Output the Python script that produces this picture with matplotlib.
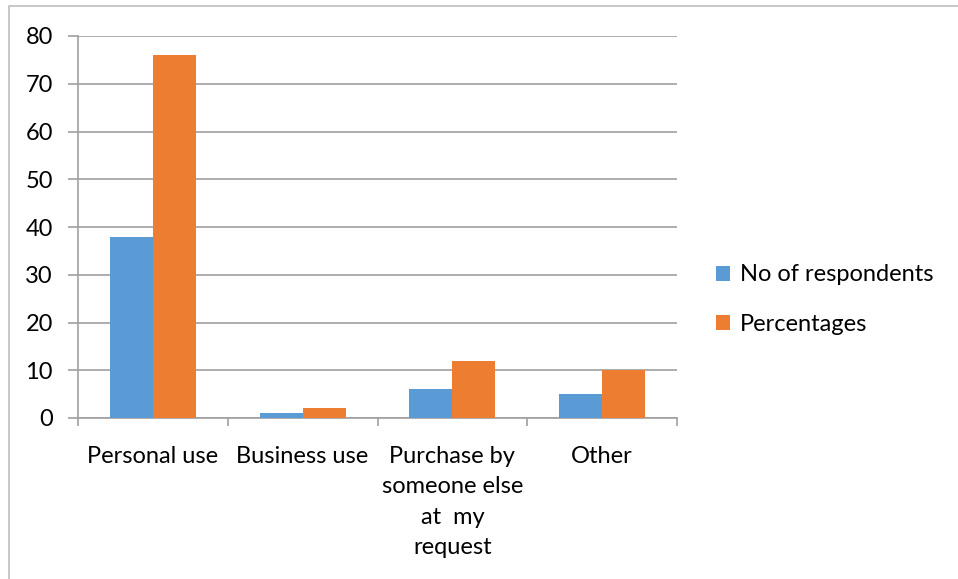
import numpy as np
import matplotlib.pyplot as plt
from matplotlib.patches import Rectangle

categories = ["Personal use", "Business use", "Purchase by\nsomeone else\nat  my\nrequest", "Other"]
respondents = [38, 1, 6, 5]
percentages = [76, 2, 12, 10]
series_names = ["No of respondents", "Percentages"]
yticks = [0, 10, 20, 30, 40, 50, 60, 70, 80]

blue = "#5b9bd5"
orange = "#ed7d31"
grey = "#a0a0a0"

plt.rcParams['font.family'] = ['Lato', 'DejaVu Sans']

fig = plt.figure(figsize=(9.58, 5.79), dpi=100)

# chart outline, runs off the right and bottom edges
fig.patches.append(Rectangle((9/958, -0.1), 1.2, 1 - 6/579 + 0.1, transform=fig.transFigure,
                             fill=False, edgecolor="#bfbfbf", linewidth=1.2))

ax = fig.add_axes([78/958, 1 - 418/579, 599/958, 382/579])

x = np.arange(len(categories))
w = 0.287
ax.bar(x - w/2, respondents, w, color=blue, label=series_names[0], zorder=3)
ax.bar(x + w/2, percentages, w, color=orange, label=series_names[1], zorder=3)

ax.set_xlim(-0.5, len(categories) - 0.5)
ax.set_ylim(0, 80)
ax.set_yticks(yticks)
ax.yaxis.grid(True, color=grey, linewidth=1.2, zorder=0)

ax.set_xticks(x)
ax.set_xticklabels(categories, fontsize=17, linespacing=1.56, va="top")
ax.set_xticks(np.arange(len(categories) + 1) - 0.5, minor=True)
ax.tick_params(axis="x", which="major", length=0, pad=20)
ax.tick_params(axis="x", which="minor", length=6, color=grey, width=1.2)
ax.tick_params(axis="y", length=7, color=grey, width=1.2, labelsize=17, pad=11)

for s in ["top", "right"]:
    ax.spines[s].set_visible(False)
for s in ["left", "bottom"]:
    ax.spines[s].set_color(grey)
    ax.spines[s].set_linewidth(1.2)

ax.legend(loc="center left", bbox_to_anchor=(1.03, 0.31), frameon=False, fontsize=17,
          handlelength=0.6, handleheight=0.6, handletextpad=0.4, labelspacing=1.2)

fig.savefig("out.png", dpi=100)
